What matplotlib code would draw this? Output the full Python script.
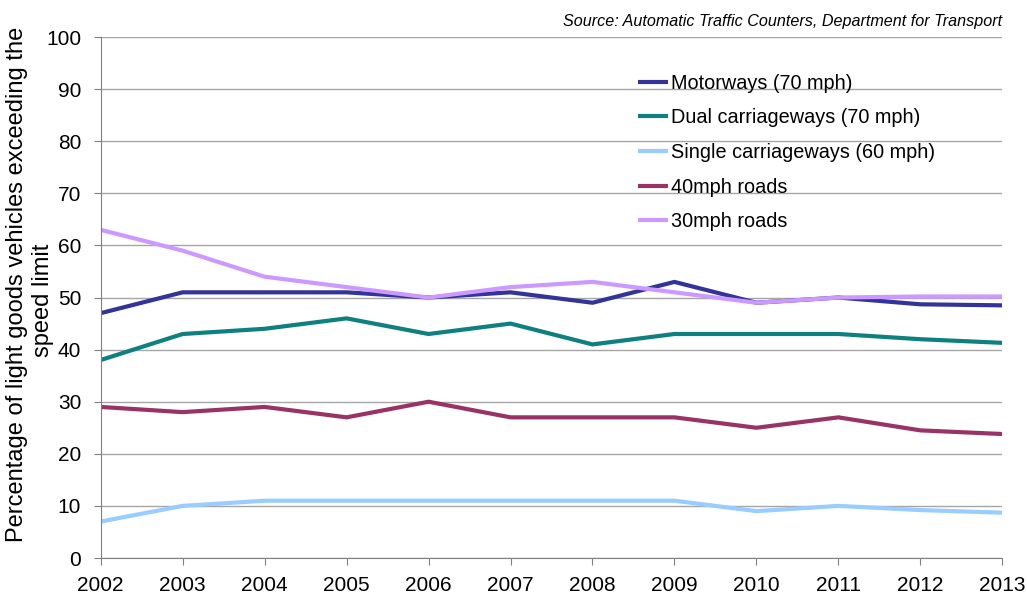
import matplotlib
matplotlib.use('Agg')
import matplotlib.pyplot as plt

plt.rcParams['font.family'] = ['Liberation Sans', 'DejaVu Sans']

years = list(range(2002, 2014))
motorways = [47, 51, 51, 51, 50, 51, 49, 53, 49, 50, 48.7, 48.5]
dual = [38, 43, 44, 46, 43, 45, 41, 43, 43, 43, 42, 41.3]
single = [7, 10, 11, 11, 11, 11, 11, 11, 9, 10, 9.2, 8.7]
mph40 = [29, 28, 29, 27, 30, 27, 27, 27, 25, 27, 24.5, 23.8]
mph30 = [63, 59, 54, 52, 50, 52, 53, 51, 49, 50, 50.2, 50.2]

labels = ['Motorways (70 mph)', 'Dual carriageways (70 mph)',
          'Single carriageways (60 mph)', '40mph roads', '30mph roads']
series = [motorways, dual, single, mph40, mph30]
colors = ['#333399', '#0E8080', '#99CCFF', '#993366', '#CC99FF']

fig = plt.figure(figsize=(10.27, 5.94), dpi=100)
ax = fig.add_axes([0.098, 0.0606, 0.878, 0.877])

for vals, lab, col in zip(series, labels, colors):
    ax.plot(years, vals, color=col, lw=3, label=lab, solid_capstyle='butt')

ax.set_xlim(2002, 2013)
ax.set_ylim(0, 100)
ax.set_xticks(years)
ax.set_yticks(range(0, 101, 10))
ax.yaxis.grid(True, color='#A6A6A6', lw=1)
ax.set_axisbelow(True)
for s in ['top', 'right']:
    ax.spines[s].set_visible(False)
for s in ['left', 'bottom']:
    ax.spines[s].set_color('#808080')
ax.tick_params(axis='both', colors='#808080', length=5, labelsize=15,
               labelcolor='black')
ax.tick_params(axis='x', pad=8)
ax.tick_params(axis='y', pad=9)

# y label drawn as two lines, like the wrapped Excel title
fig.text(0.0168, 0.522, 'Percentage of light goods vehicles exceeding the',
         rotation=90, ha='center', va='center', fontsize=17)
fig.text(0.042, 0.495, 'speed limit',
         rotation=90, ha='center', va='center', fontsize=17)

ax.legend(loc='upper left', bbox_to_anchor=(0.596, 0.930), frameon=False,
          fontsize=14.3, borderaxespad=0, borderpad=0, handlelength=1.5,
          handletextpad=0.15, labelspacing=0.79)

fig.text(0.976, 0.951, 'Source: Automatic Traffic Counters, Department for Transport',
         ha='right', va='bottom', fontsize=11.6, style='italic')

fig.savefig('out.png', dpi=100)
